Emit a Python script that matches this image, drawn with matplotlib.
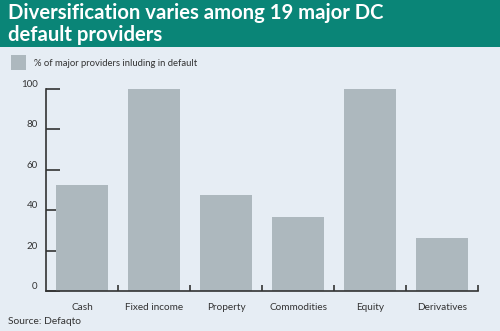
import matplotlib
matplotlib.use("Agg")
import matplotlib.pyplot as plt
from matplotlib.patches import Rectangle

categories = ["Cash", "Fixed income", "Property", "Commodities", "Equity", "Derivatives"]
values = [52.6, 100, 47.4, 36.8, 100, 26.3]
yticks = [0, 20, 40, 60, 80, 100]
title = "Diversification varies among 19 major DC\ndefault providers"
legend_label = "% of major providers inluding in default"
source = "Source: Defaqto"

W, H = 500, 331
bg = "#e6edf4"
teal = "#0a8577"
bar_c = "#adb8be"
ink = "#333333"

fig = plt.figure(figsize=(W/100, H/100), dpi=100, facecolor=bg)
plt.rcParams['font.family'] = ['Lato', 'DejaVu Sans']

# header band
fig.patches.append(Rectangle((0, 1 - 47/H), 1, 47/H, transform=fig.transFigure,
                             facecolor=teal, edgecolor='none', zorder=0))
fig.text(8/W, 1 - 41/H, title, color='white', fontsize=14.6, fontweight='bold',
         va='baseline', ha='left', linespacing=1.13)

# legend
fig.patches.append(Rectangle((11/W, 1 - 70/H), 15/W, 15/H, transform=fig.transFigure,
                             facecolor=bar_c, edgecolor='none'))
fig.text(34/W, 1 - 63/H, legend_label, fontsize=6.8, color=ink, va='center', ha='left')

# axes
x0, x1 = 46, 478
y0, y1 = 291, 89
ax = fig.add_axes([x0/W, 1 - y0/H, (x1-x0)/W, (y0-y1)/H])
ax.set_facecolor(bg)
pos = list(range(len(categories)))
ax.bar(pos, values, width=0.71, color=bar_c, zorder=2)
ax.set_xlim(-0.5, len(categories) - 0.5)
ax.set_ylim(0, 100)
ax.set_yticks(yticks)
ax.set_yticklabels([str(t) for t in yticks])
ax.set_xticks(pos)
ax.set_xticklabels(categories)
ax.set_xticks([p + 0.5 for p in pos], minor=True)
for s in ['top', 'right']:
    ax.spines[s].set_visible(False)
for s in ['left', 'bottom']:
    ax.spines[s].set_color(ink)
    ax.spines[s].set_linewidth(1.2)
ax.tick_params(axis='y', direction='in', length=10, width=1.2, color=ink,
               labelsize=7, labelcolor=ink, pad=6)
ax.tick_params(axis='x', which='major', length=0, labelsize=7.2, labelcolor=ink, pad=9)
ax.tick_params(axis='x', which='minor', direction='in', length=4, width=1.2, color=ink)
for lbl in ax.get_yticklabels():
    lbl.set_verticalalignment('bottom')

fig.text(8/W, 1 - 322/H, source, fontsize=7.4, color=ink, va='center', ha='left')

fig.savefig("out.png", dpi=100, facecolor=bg)
